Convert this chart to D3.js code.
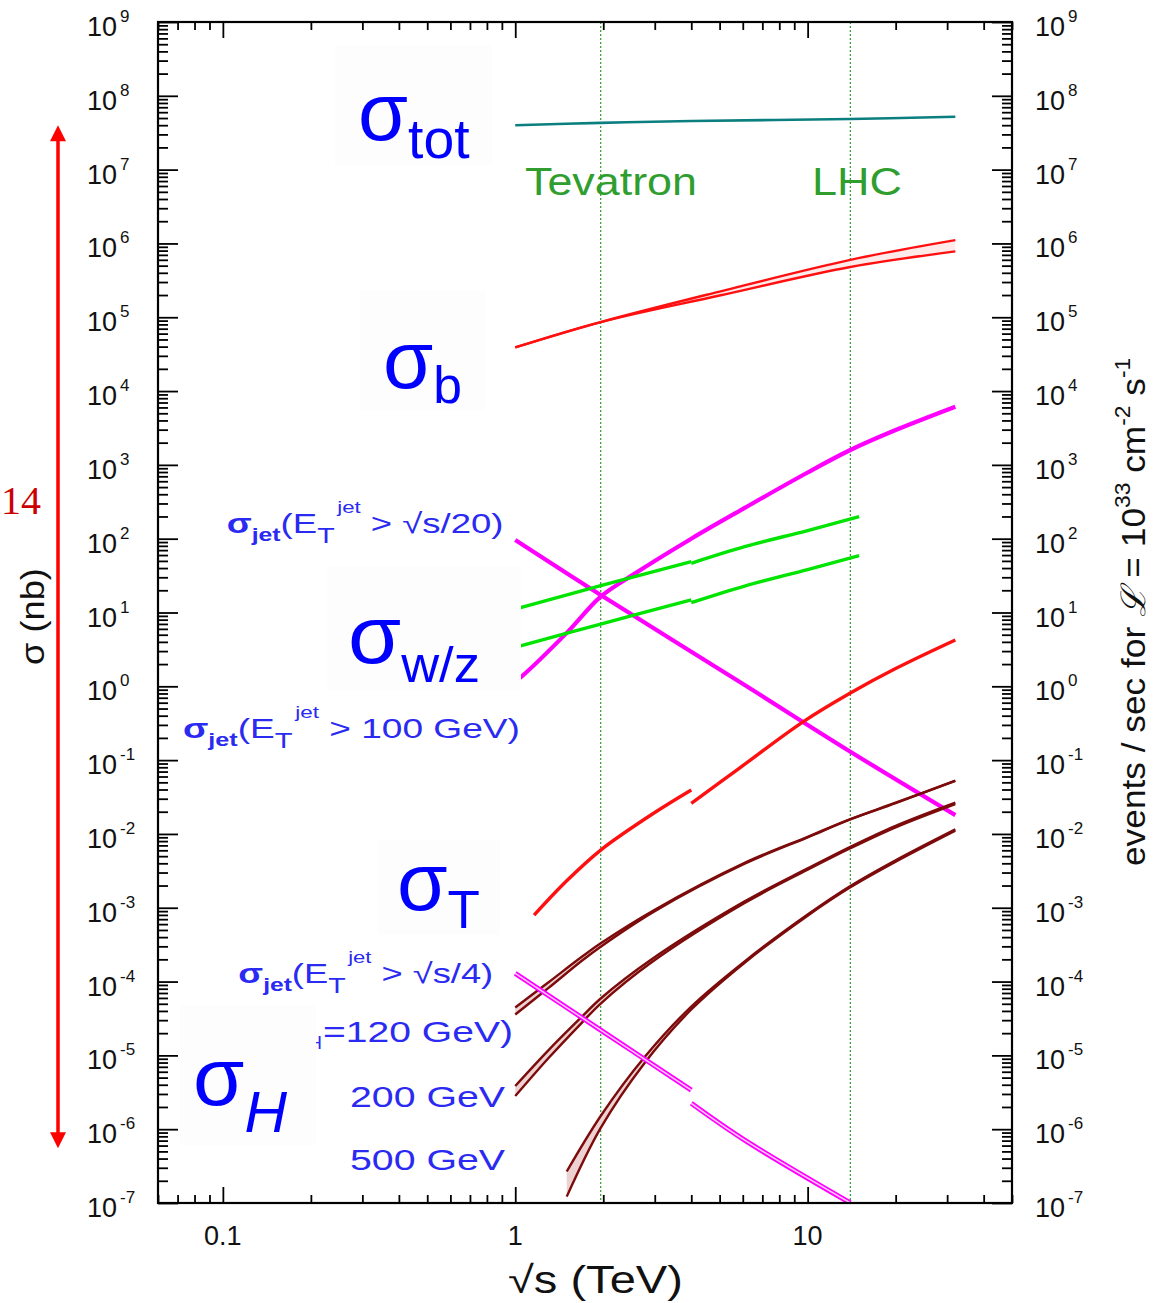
<!DOCTYPE html>
<html><head><meta charset="utf-8">
<script src="https://cdn.jsdelivr.net/npm/d3@7"></script>
<style>
body{margin:0;background:#fff}
svg{display:block}
text{font-family:"Liberation Sans",Arial,Helvetica,sans-serif}
</style>
</head><body>
<svg id="c" width="1155" height="1303"></svg>
<script>
// ---------------- DATA (sqrt(s) in TeV, cross sections in nb) ----------------
const xMajorTicks = [0.1, 1, 10];
const xTickLabels = ["0.1", "1", "10"];
const yExponents = [-7,-6,-5,-4,-3,-2,-1,0,1,2,3,4,5,6,7,8,9];
const colliders = ["Tevatron", "LHC"];
const colliderEnergy = [1.96, 14];

const sqrtS_tot = [1, 1.96, 4, 14, 32];
const sigma_tot = [4.0e7, 4.3e7, 4.55e7, 4.85e7, 5.2e7];

const sqrtS_b = [1, 1.96, 5, 14, 32];
const sigma_b_hi = [3.9e4, 8.6e4, 2.23e5, 6.0e5, 1.11e6];
const sigma_b_lo = [3.9e4, 8.6e4, 1.97e5, 4.8e5, 7.8e5];

const sqrtS_jet100 = [1, 1.05, 1.5, 1.96, 2.5, 4, 6.09, 10, 14, 20, 32];
const sigma_jet100 = [1.16, 1.35, 5.3, 16.4, 31.6, 100, 261, 789, 1590, 2965, 6140];

const sqrtS_jet20 = [1, 1.96, 6.09, 14, 32];
const sigma_jet20 = [96, 17.3, 1.04, 0.13, 0.018];

const sqrtS_W_ppbar = [1, 1.05, 1.96, 4];
const sigma_W_ppbar = [11.1, 11.75, 23.1, 48.8];
const sqrtS_W_pp = [4, 6.09, 10, 15];
const sigma_W_pp = [46.4, 77.8, 129, 199];

const sqrtS_Z_ppbar = [1, 1.05, 1.96, 4];
const sigma_Z_ppbar = [3.37, 3.55, 6.98, 14.8];
const sqrtS_Z_pp = [4, 6.09, 10, 15];
const sigma_Z_pp = [13.6, 22.8, 38.2, 58.8];

const sqrtS_top_ppbar = [1.16, 1.5, 1.96, 3, 4];
const sigma_top_ppbar = [7.96e-4, 2.32e-3, 6.05e-3, 0.0195, 0.0394];
const sqrtS_top_pp = [4, 5.85, 9.62, 14, 20, 32];
const sigma_top_pp = [0.026, 0.0782, 0.328, 0.811, 1.74, 4.24];

const sqrtS_jet4_ppbar = [1, 1.96, 4];
const sigma_jet4_ppbar = [1.29e-4, 2.2e-5, 3.39e-6];
const sqrtS_jet4_pp = [4, 6.09, 14];
const sigma_jet4_pp = [2.24e-6, 7.1e-7, 1.0e-7];

const sqrtS_H120 = [1, 1.3, 1.685, 1.96, 3, 6.09, 10, 14, 20, 32];
const sigma_H120_hi = [4.45e-5, 9.8e-5, 2.15e-4, 3.3e-4, 9.4e-4, 4.05e-3, 9.15e-3, 0.0159, 0.0265, 0.0529];
const sigma_H120_lo = [3.58e-5, 8.2e-5, 1.9e-4, 2.97e-4, 9.0e-4, 3.95e-3, 9.0e-3, 0.0157, 0.0261, 0.0523];

const sqrtS_H200 = [1, 1.3, 1.685, 1.96, 2.92, 6.09, 10, 14, 20, 32];
const sigma_H200_hi = [3.85e-6, 1.18e-5, 3.3e-5, 5.9e-5, 1.99e-4, 1.22e-3, 3.41e-3, 6.7e-3, 0.0129, 0.0266];
const sigma_H200_lo = [2.81e-6, 9.2e-6, 2.74e-5, 5.04e-5, 1.81e-4, 1.16e-3, 3.27e-3, 6.4e-3, 0.0123, 0.0254];

const sqrtS_H500 = [1.5, 1.96, 2.77, 4, 6.09, 10, 14, 20, 32];
const sigma_H500_hi = [2.67e-7, 1.51e-6, 9.5e-6, 4.59e-5, 1.88e-4, 8.1e-4, 1.97e-3, 4.4e-3, 0.01155];
const sigma_H500_lo = [1.22e-7, 1.04e-6, 7.9e-6, 4.18e-5, 1.80e-4, 7.8e-4, 1.89e-3, 4.2e-3, 0.01105];

const arrowSpan = [4.0e7, 5.5e-7];

// ---------------- SETUP ----------------
const M = {left:158, right:1012, top:22, bottom:1203};
const x = d3.scaleLog().domain([0.06, 50]).range([M.left, M.right]);
const y = d3.scaleLog().domain([1e-7, 1e9]).range([M.bottom, M.top]);
const svg = d3.select('#c');

svg.append('defs').append('clipPath').attr('id','clip')
  .append('rect').attr('x',M.left).attr('y',M.top)
  .attr('width',M.right-M.left).attr('height',M.bottom-M.top);

const zip = (a,b) => a.map((v,i)=>[v,b[i]]);
const curve = d3.curveCatmullRom.alpha(0.5);
const line = d3.line().x(d=>x(d[0])).y(d=>y(d[1])).curve(curve);
const area = d3.area().x(d=>x(d[0])).y0(d=>y(d[2])).y1(d=>y(d[1])).curve(curve);

// ---------------- AXES ----------------
const xMinor = [];
[0.01,0.1,1,10].forEach(d=>{for(let k=2;k<=9;k++){const v=k*d; if(v>=0.06&&v<=50) xMinor.push(v);}});
const yMajor = yExponents.map(e=>Math.pow(10,e));
const yMinor = [];
yExponents.slice(0,-1).forEach(e=>{for(let k=2;k<=9;k++) yMinor.push(k*Math.pow(10,e));});

function axisG(gen, tx, ty){
  const g = svg.append('g').attr('transform',`translate(${tx},${ty})`).call(gen);
  g.select('.domain').remove();
  g.selectAll('line').attr('stroke','#000').attr('stroke-width',1.8);
  return g;
}
axisG(d3.axisBottom(x).tickValues(xMajorTicks).tickSize(-16).tickFormat(''), 0, M.bottom);
axisG(d3.axisBottom(x).tickValues(xMinor).tickSize(-8).tickFormat(''), 0, M.bottom);
axisG(d3.axisTop(x).tickValues(xMajorTicks).tickSize(-16).tickFormat(''), 0, M.top);
axisG(d3.axisTop(x).tickValues(xMinor).tickSize(-8).tickFormat(''), 0, M.top);
axisG(d3.axisLeft(y).tickValues(yMajor).tickSize(-20).tickFormat(''), M.left, 0);
axisG(d3.axisLeft(y).tickValues(yMinor).tickSize(-10).tickFormat(''), M.left, 0);
axisG(d3.axisRight(y).tickValues(yMajor).tickSize(-20).tickFormat(''), M.right, 0);
axisG(d3.axisRight(y).tickValues(yMinor).tickSize(-10).tickFormat(''), M.right, 0);

// tick labels
xMajorTicks.forEach((v,i)=>{
  svg.append('text').attr('x',x(v)).attr('y',1245).attr('text-anchor','middle')
    .style('font-size','27px').attr('fill','#111').text(xTickLabels[i]);
});
[87, 1035].forEach(lx=>{
  yExponents.forEach(e=>{
    const t = svg.append('text').attr('x',lx).attr('y',y(Math.pow(10,e))+14)
      .style('font-size','27px').attr('fill','#111');
    t.append('tspan').text('10');
    t.append('tspan').attr('dx',3).attr('dy',-14).style('font-size','17px').text(e<0?('-'+(-e)):String(e));
  });
});

// ---------------- COLLIDER LINES ----------------
colliderEnergy.forEach(v=>{
  svg.append('line').attr('x1',x(v)).attr('x2',x(v)).attr('y1',M.top).attr('y2',M.bottom)
    .attr('stroke','#2f9a2f').attr('stroke-width',1.2).attr('stroke-dasharray','2,2');
});

// ---------------- CURVES ----------------
const P = svg.append('g').attr('clip-path','url(#clip)');
function plain(xs, vs, color, w){
  P.append('path').attr('d',line(zip(xs,vs))).attr('fill','none')
    .attr('stroke',color).attr('stroke-width',w);
}
function hollow(xs, vs, color, w, inner){
  plain(xs, vs, color, w);
  P.append('path').attr('d',line(zip(xs,vs))).attr('fill','none')
    .attr('stroke',inner).attr('stroke-width',w*0.3);
}
function band(xs, hi, lo, color, w, fill){
  const pts = xs.map((v,i)=>[v,hi[i],lo[i]]);
  P.append('path').attr('d',area(pts)).attr('fill',fill).attr('stroke','none');
  plain(xs, hi, color, w);
  plain(xs, lo, color, w);
}

plain(sqrtS_tot, sigma_tot, '#0b7f80', 2.6);
band(sqrtS_b, sigma_b_hi, sigma_b_lo, '#ff1010', 2.4, '#ffeaea');
plain(sqrtS_jet100, sigma_jet100, '#ff00ff', 4.2);
plain(sqrtS_jet20, sigma_jet20, '#ff00ff', 4.2);
plain(sqrtS_W_ppbar, sigma_W_ppbar, '#00e400', 3.4);
plain(sqrtS_W_pp, sigma_W_pp, '#00e400', 3.4);
plain(sqrtS_Z_ppbar, sigma_Z_ppbar, '#00e400', 3.4);
plain(sqrtS_Z_pp, sigma_Z_pp, '#00e400', 3.4);
plain(sqrtS_top_ppbar, sigma_top_ppbar, '#ff1010', 3.4);
plain(sqrtS_top_pp, sigma_top_pp, '#ff1010', 3.4);
band(sqrtS_H120, sigma_H120_hi, sigma_H120_lo, '#7d0b0b', 2.4, '#ecd2d2');
band(sqrtS_H200, sigma_H200_hi, sigma_H200_lo, '#7d0b0b', 2.4, '#ecd2d2');
band(sqrtS_H500, sigma_H500_hi, sigma_H500_lo, '#7d0b0b', 2.4, '#ecd2d2');
hollow(sqrtS_jet4_ppbar, sigma_jet4_ppbar, '#ff00ff', 5, '#ffd0ff');
hollow(sqrtS_jet4_pp, sigma_jet4_pp, '#ff00ff', 5, '#ffd0ff');

// frame
svg.append('rect').attr('x',M.left).attr('y',M.top).attr('width',M.right-M.left)
  .attr('height',M.bottom-M.top).attr('fill','none').attr('stroke','#000').attr('stroke-width',2.2);

// ---------------- TEXT HELPERS ----------------
function fitted(tx, ty, rot, width, build){
  const g = svg.append('g').attr('transform',`translate(${tx},${ty})`+(rot?` rotate(${rot})`:''));
  const t = g.append('text').attr('x',0).attr('y',0);
  build(t);
  const bb = t.node().getBBox();
  const s = width/bb.width;
  t.attr('transform',`scale(${s},1) translate(${-bb.x},0)`);
  return t;
}
const BLUE = '#0000ff', LBLUE = '#2a2af2';

// fragment of the subscript of the partly hidden Higgs label (cut by the σ_H box)
svg.append('text').attr('x',322).attr('y',1049).attr('text-anchor','end')
  .style('font-size','19px').attr('fill',LBLUE).text('H');

// white label boxes
[[335,45,157,120],[360,290,125,120],[327,567,194,123],[378,840,122,95],[180,1005,136,140]]
  .forEach(b=>svg.append('rect').attr('x',b[0]).attr('y',b[1]).attr('width',b[2]).attr('height',b[3]).attr('fill','#fdfdfd'));

// big sigma labels
function bigSigma(tx, ty, w, sub, dy, subSize, italic){
  fitted(tx, ty, 0, w, t=>{
    t.attr('fill',BLUE).style('font-size','82px');
    t.append('tspan').text('σ');
    const s = t.append('tspan').attr('dy',dy).style('font-size',subSize+'px').text(sub);
    if(italic) s.style('font-style','italic');
  });
}
bigSigma(358, 140, 112, 'tot', 18, 56);
bigSigma(383, 388, 79, 'b', 15, 52);
bigSigma(348, 663, 132, 'w/z', 19, 50);
bigSigma(397, 910, 83, 'T', 18, 53);
bigSigma(193, 1105, 94, 'H', 27, 58, true);

// jet labels
function jetLabel(tx, ty, w, tail){
  fitted(tx, ty, 0, w, t=>{
    t.attr('fill',LBLUE).style('font-size','28px');
    t.append('tspan').style('font-weight','bold').text('σ');
    t.append('tspan').attr('dy',8).style('font-size','19px').style('font-weight','bold').text('jet');
    t.append('tspan').attr('dy',-8).text('(E');
    t.append('tspan').attr('dy',10).style('font-size','22px').text('T');
    t.append('tspan').attr('dx',2).attr('dy',-30).style('font-size','17px').text('jet');
    t.append('tspan').attr('dy',20).text(tail);
  });
}
jetLabel(226.7, 533, 277, ' > √s/20)');
jetLabel(183, 738.3, 337, ' > 100 GeV)');
jetLabel(238.3, 983.3, 255, ' > √s/4)');

function simple(tx, ty, w, str, size, color){
  fitted(tx, ty, 0, w, t=>{ t.attr('fill',color).style('font-size',size+'px').text(str); });
}
simple(323, 1041.7, 190, '=120 GeV)', 30, LBLUE);
simple(350, 1106.7, 155, '200 GeV', 30, LBLUE);
simple(350, 1170, 155, '500 GeV', 30, LBLUE);

// collider names
simple(525, 195, 172, colliders[0], 38, '#2f9e2f');
simple(812, 195, 90, colliders[1], 38, '#2f9e2f');

// axis titles
simple(508, 1293, 175, '√s (TeV)', 38, '#111');
fitted(44, 665, -90, 97, t=>{ t.attr('fill','#111').style('font-size','34px').text('σ (nb)'); });
fitted(1145, 866, -90, 508, t=>{
  t.attr('fill','#111').style('font-size','34px');
  t.append('tspan').text('events / sec for ');
  t.append('tspan').style('font-style','italic').text('ℒ');
  t.append('tspan').text(' = 10');
  t.append('tspan').attr('dy',-15).style('font-size','22px').text('33');
  t.append('tspan').attr('dy',15).text(' cm');
  t.append('tspan').attr('dy',-15).style('font-size','22px').text('-2');
  t.append('tspan').attr('dy',15).text(' s');
  t.append('tspan').attr('dy',-15).style('font-size','22px').text('-1');
});

// ---------------- RED ARROW + "14" ----------------
const ax = 58, yTop = y(arrowSpan[0]), yBot = y(arrowSpan[1]);
svg.append('line').attr('x1',ax).attr('x2',ax).attr('y1',yTop+12).attr('y2',yBot-12)
  .attr('stroke','#ff0000').attr('stroke-width',3.5);
svg.append('path').attr('d',`M${ax},${yTop} L${ax-8},${yTop+16} L${ax+8},${yTop+16} Z`).attr('fill','#ff0000');
svg.append('path').attr('d',`M${ax},${yBot} L${ax-8},${yBot-16} L${ax+8},${yBot-16} Z`).attr('fill','#ff0000');
svg.append('text').attr('x',1).attr('y',514).attr('text-anchor','start')
  .style('font-family','"Liberation Serif","Times New Roman",serif').style('font-size','40px')
  .attr('fill','#cc0000').text('14');
</script>
</body></html>
